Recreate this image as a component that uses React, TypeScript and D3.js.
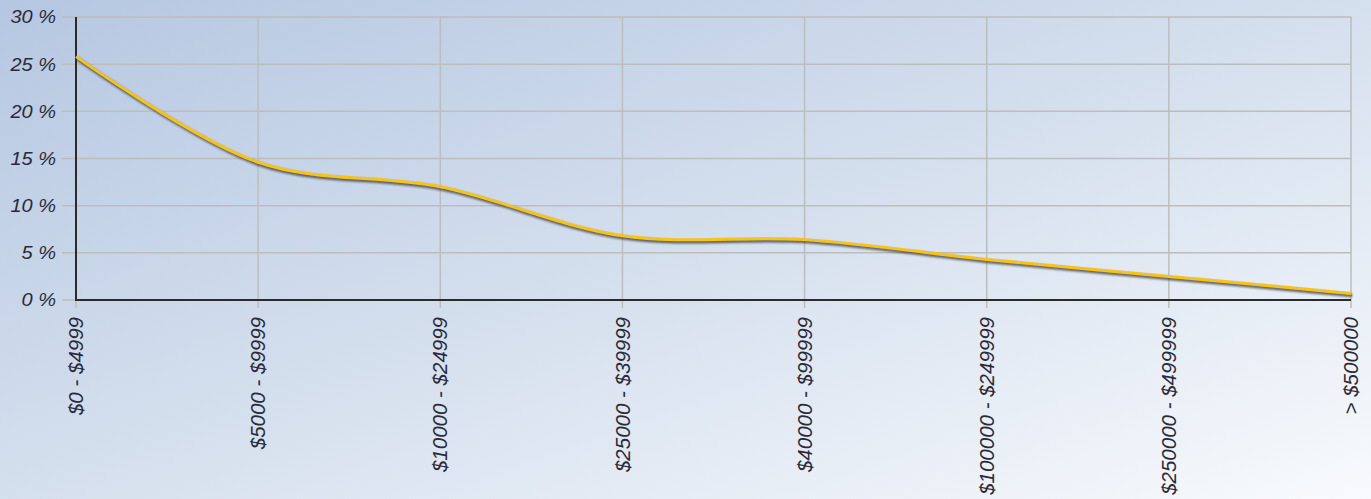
import React from 'react';
import * as d3 from 'd3';

const categories = [
  '$0 - $4999',
  '$5000 - $9999',
  '$10000 - $24999',
  '$25000 - $39999',
  '$40000 - $99999',
  '$100000 - $249999',
  '$250000 - $499999',
  '> $500000',
];
const shares = [25.8, 14.6, 12.0, 6.8, 6.4, 4.3, 2.5, 0.7];
const yTicks = [0, 5, 10, 15, 20, 25, 30];

const W = 1371;
const H = 499;
const margin = { top: 17, right: 20, bottom: 199, left: 76 };

export default function App() {
  const x = d3.scalePoint<string>()
    .domain(categories)
    .range([margin.left, W - margin.right]);

  const y = d3.scaleLinear()
    .domain([0, 30])
    .range([H - margin.bottom, margin.top]);

  const pts: [number, number][] = categories.map((c, i) => [x(c) as number, y(shares[i])]);
  const line = d3.line().curve(d3.curveCatmullRom.alpha(0.5));
  const d = line(pts) || '';

  const x0 = margin.left;
  const x1 = W - margin.right;
  const yBase = y(0);

  return (
    <svg
      width={W}
      height={H}
      style={{ position: 'absolute', left: 0, top: 0, fontFamily: 'Arial, "Liberation Sans", sans-serif' }}
    >
      <defs>
        <linearGradient id="bg" x1="0" y1="0" x2="1" y2="1">
          <stop offset="0%" stopColor="#b5c7e1" />
          <stop offset="55%" stopColor="#d8e2ef" />
          <stop offset="100%" stopColor="#f8fafd" />
        </linearGradient>
        <filter id="shadow" x="-5%" y="-20%" width="110%" height="140%">
          <feGaussianBlur stdDeviation="0.8" />
        </filter>
      </defs>
      <rect width={W} height={H} fill="url(#bg)" />

      {/* horizontal grid + y labels */}
      {yTicks.map(t => (
        <g key={t}>
          <line x1={x0 - 14} x2={x1} y1={y(t)} y2={y(t)} stroke="#bdbdbd" strokeWidth={1.5} />
          <text
            x={56}
            y={y(t)}
            dy="0.36em"
            textAnchor="end"
            fontSize={20}
            fontStyle="italic"
            fill="#2a2a3a"
            transform={`translate(0,${y(t) * 0.1}) scale(1,0.9)`}
          >
            {`${t} %`}
          </text>
        </g>
      ))}

      {/* vertical grid + x labels */}
      {categories.map(c => (
        <g key={c}>
          <line x1={x(c)} x2={x(c)} y1={margin.top} y2={yBase + 8} stroke="#bdbdbd" strokeWidth={1.5} />
          <text
            transform={`translate(${x(c)},${yBase + 17}) rotate(-90)`}
            dy="0.35em"
            textAnchor="end"
            fontSize={20.5}
            fontStyle="italic"
            fill="#2a2a3a"
          >
            {c}
          </text>
        </g>
      ))}

      {/* axes */}
      <line x1={x0} x2={x0} y1={margin.top} y2={yBase + 1} stroke="#2b2b2b" strokeWidth={2} />
      <line x1={x0} x2={x1} y1={yBase} y2={yBase} stroke="#2b2b2b" strokeWidth={2} />

      {/* series */}
      <path d={d} fill="none" stroke="#333" strokeOpacity={0.75} strokeWidth={3.5} transform="translate(1,2)" filter="url(#shadow)" />
      <path d={d} fill="none" stroke="#f7c21a" strokeWidth={3} />
    </svg>
  );
}
